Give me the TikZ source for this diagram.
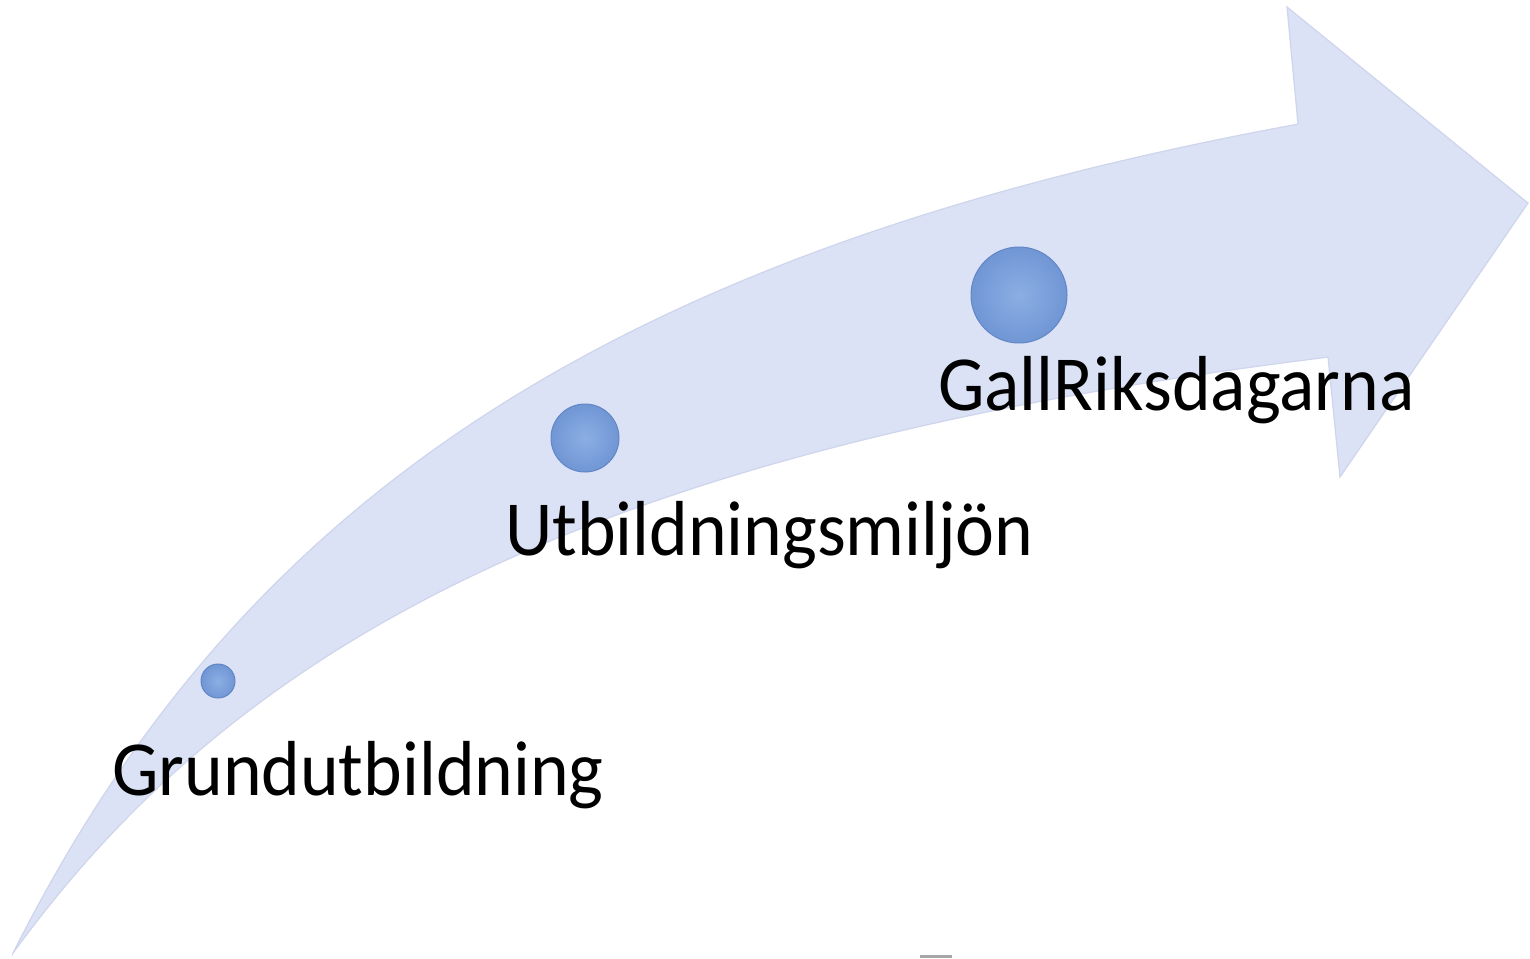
\documentclass[tikz,border=0pt]{standalone}
\usepackage{fontspec}
\setmainfont{Carlito}
\begin{document}
\begin{tikzpicture}[x=1pt,y=-1pt,
  declare function={
    uu(\t)=ln(\t+200)-5.3613;
    upedge(\t)=953-422.2*uu(\t)-80.09*uu(\t)^2+40.34*uu(\t)^3;
    loedge(\t)=953-291.7*uu(\t)-68.63*uu(\t)^2+32.07*uu(\t)^3;},
  arrowbody/.style={fill=arrowblue, draw=arrowedge, line width=1.2pt, line join=miter},
  dot/.style={circle, inner sep=0pt, inner color=dotlight, outer color=dotdark, draw=dotrim, line width=1pt},
  lbl/.style={anchor=base west, inner sep=0pt, font=\fontsize{78}{90}\selectfont, text=black}]
\definecolor{arrowblue}{RGB}{220,226,245}
\definecolor{arrowedge}{RGB}{206,213,236}
\definecolor{dotlight}{RGB}{140,174,228}
\definecolor{dotdark}{RGB}{112,150,212}
\definecolor{dotrim}{RGB}{98,134,198}
\useasboundingbox (0,0) rectangle (1530,958);
\fill[white] (0,0) rectangle (1530,958);
% curved arrow
\path[arrowbody]
  plot[domain=13:1298, samples=160, variable=\t] (\t,{upedge(\t)})
  -- (1287,7) -- (1528,203) -- (1340,477) -- (1328,357)
  -- plot[domain=1328:13, samples=160, variable=\t] (\t,{loedge(\t)})
  -- cycle;
% dots
\node[dot, minimum size=34pt] (d1) at (218,681) {};
\node[dot, minimum size=68pt] (d2) at (585,438) {};
\node[dot, minimum size=96pt] (d3) at (1019,295) {};
% labels
\node[lbl] (l1) at (112,795) {\scalebox{0.944}[1]{Grundutbildning}};
\node[lbl] (l2) at (505,555) {\scalebox{0.944}[1]{Utbildningsmiljön}};
\node[lbl] (l3) at (938,410) {\scalebox{0.944}[1]{GallRiksdagarna}};
% small mark at bottom edge
\fill[gray!70] (920,955) rectangle (952,958);
\end{tikzpicture}
\end{document}
